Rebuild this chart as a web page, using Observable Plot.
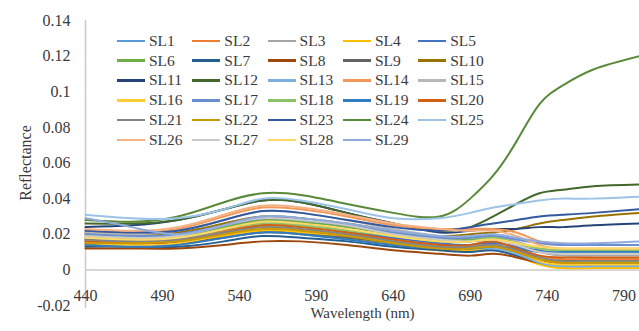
<!DOCTYPE html>
<html>
<head>
<meta charset="utf-8">
<script src="https://cdn.jsdelivr.net/npm/d3@7"></script>
<script src="https://cdn.jsdelivr.net/npm/@observablehq/plot@0.6"></script>
<style>
  html, body { margin: 0; padding: 0; background: #fff; }
  #wrap { position: relative; width: 639px; height: 331px; overflow: hidden; }
  #legend { position: absolute; left: 117px; top: 31px; display: grid;
    grid-template-columns: repeat(5, 75.3px); grid-auto-rows: 19.8px;
    font-family: "Liberation Serif", "Times New Roman", serif; font-size: 15.5px; color: #3a3a3a; }
  .item { display: flex; align-items: center; white-space: nowrap; }
  .sw { width: 28px; height: 2.6px; margin-right: 4px; flex: none; }
</style>
</head>
<body>
<div id="wrap"><div id="legend"></div></div>
<script>
const wavelengths = [440, 470, 500, 530, 555, 580, 610, 640, 670, 690, 705, 720, 735, 750, 770, 800];
const seriesNames = ["SL1","SL2","SL3","SL4","SL5","SL6","SL7","SL8","SL9","SL10",
  "SL11","SL12","SL13","SL14","SL15","SL16","SL17","SL18","SL19","SL20",
  "SL21","SL22","SL23","SL24","SL25","SL26","SL27","SL28","SL29"];
const seriesColors = ["#5B9BD5","#ED7D31","#A5A5A5","#FFC000","#4472C4","#70AD47","#255E91","#9E480E","#636363","#997300",
  "#264478","#43682B","#7CAFDD","#F1975A","#B7B7B7","#FFCD33","#698ED0","#8CC168","#327DC2","#D26012",
  "#848484","#CC9A00","#335AA1","#5A8A39","#9DC3E6","#F4B183","#C9C9C9","#FFD966","#8FAADC"];
// reflectance values per series, at the wavelengths above
const reflectance = [
  [0.016,0.015,0.016,0.020,0.023,0.022,0.019,0.015,0.012,0.011,0.011,0.008,0.004,0.002,0.002,0.002], // SL1
  [0.017,0.016,0.017,0.022,0.025,0.024,0.021,0.017,0.014,0.014,0.015,0.012,0.008,0.006,0.006,0.006], // SL2
  [0.020,0.019,0.020,0.026,0.030,0.029,0.025,0.020,0.017,0.016,0.017,0.014,0.010,0.008,0.008,0.008], // SL3
  [0.014,0.013,0.014,0.019,0.022,0.021,0.018,0.014,0.011,0.011,0.012,0.008,0.003,0.001,0.001,0.001], // SL4
  [0.018,0.017,0.018,0.023,0.027,0.026,0.022,0.018,0.015,0.014,0.015,0.013,0.011,0.010,0.010,0.010], // SL5
  [0.019,0.018,0.019,0.024,0.028,0.027,0.024,0.020,0.017,0.017,0.018,0.015,0.012,0.011,0.011,0.011], // SL6
  [0.013,0.013,0.013,0.016,0.019,0.018,0.016,0.013,0.011,0.010,0.011,0.008,0.005,0.004,0.004,0.004], // SL7
  [0.012,0.012,0.012,0.014,0.016,0.016,0.014,0.011,0.009,0.008,0.009,0.007,0.004,0.003,0.003,0.003], // SL8
  [0.015,0.014,0.015,0.018,0.021,0.020,0.018,0.015,0.012,0.012,0.013,0.010,0.006,0.005,0.005,0.005], // SL9
  [0.021,0.020,0.021,0.026,0.030,0.029,0.026,0.022,0.019,0.020,0.021,0.023,0.026,0.028,0.030,0.032], // SL10
  [0.024,0.025,0.028,0.034,0.039,0.038,0.032,0.026,0.021,0.022,0.023,0.023,0.024,0.024,0.025,0.026], // SL11
  [0.026,0.026,0.028,0.034,0.039,0.038,0.032,0.026,0.022,0.024,0.030,0.037,0.043,0.045,0.047,0.048], // SL12
  [0.017,0.016,0.017,0.021,0.024,0.023,0.020,0.016,0.013,0.012,0.012,0.009,0.004,0.002,0.002,0.002], // SL13
  [0.022,0.021,0.023,0.030,0.035,0.034,0.030,0.025,0.023,0.023,0.023,0.021,0.016,0.014,0.014,0.014], // SL14
  [0.021,0.020,0.022,0.028,0.033,0.032,0.028,0.023,0.019,0.018,0.019,0.016,0.012,0.010,0.010,0.010], // SL15
  [0.015,0.014,0.015,0.020,0.024,0.023,0.020,0.016,0.013,0.013,0.014,0.011,0.005,0.003,0.003,0.003], // SL16
  [0.020,0.019,0.020,0.025,0.029,0.028,0.025,0.021,0.018,0.018,0.019,0.017,0.015,0.014,0.014,0.014], // SL17
  [0.018,0.017,0.018,0.023,0.026,0.025,0.022,0.019,0.016,0.016,0.018,0.015,0.012,0.011,0.011,0.011], // SL18
  [0.014,0.013,0.014,0.018,0.021,0.020,0.017,0.014,0.012,0.012,0.013,0.012,0.010,0.010,0.010,0.010], // SL19
  [0.016,0.015,0.016,0.021,0.025,0.024,0.021,0.017,0.014,0.014,0.016,0.012,0.008,0.007,0.007,0.007], // SL20
  [0.017,0.016,0.017,0.021,0.024,0.023,0.020,0.016,0.013,0.013,0.014,0.011,0.007,0.005,0.005,0.005], // SL21
  [0.015,0.015,0.016,0.020,0.023,0.022,0.019,0.015,0.012,0.012,0.013,0.010,0.006,0.004,0.004,0.004], // SL22
  [0.022,0.021,0.022,0.028,0.033,0.032,0.028,0.024,0.022,0.024,0.026,0.028,0.030,0.031,0.032,0.034], // SL23
  [0.028,0.027,0.030,0.038,0.043,0.042,0.037,0.032,0.030,0.040,0.053,0.072,0.093,0.1035,0.1125,0.120], // SL24
  [0.031,0.029,0.029,0.034,0.040,0.039,0.034,0.029,0.029,0.032,0.035,0.037,0.039,0.040,0.040,0.041], // SL25
  [0.023,0.022,0.024,0.031,0.036,0.035,0.031,0.026,0.023,0.022,0.022,0.019,0.014,0.012,0.012,0.012], // SL26
  [0.019,0.018,0.019,0.025,0.029,0.028,0.025,0.020,0.017,0.016,0.017,0.014,0.010,0.009,0.009,0.009], // SL27
  [0.018,0.017,0.018,0.023,0.027,0.026,0.023,0.019,0.016,0.016,0.017,0.015,0.013,0.012,0.012,0.012], // SL28
  [0.029,0.024,0.020,0.025,0.030,0.029,0.026,0.022,0.019,0.019,0.020,0.018,0.016,0.015,0.015,0.016]  // SL29
];
const xTicks = [440, 490, 540, 590, 640, 690, 740, 790];
const yTicks = [-0.02, 0, 0.02, 0.04, 0.06, 0.08, 0.1, 0.12, 0.14];

const font = "'Liberation Serif', 'Times New Roman', serif";
const textColor = "#3a3a3a";
const axisColor = "#cfc9c5";

const lineMarks = seriesNames.map((name, i) => {
  const rows = wavelengths.map((w, j) => ({wl: w, v: reflectance[i][j]}));
  return Plot.line(rows, {x: "wl", y: "v", stroke: seriesColors[i], strokeWidth: 2, curve: "natural"});
});

const fmt = d => d === 0 ? "0" : String(+d.toFixed(2));

const chart = Plot.plot({
  width: 639,
  height: 331,
  marginLeft: 85,
  marginRight: 0,
  marginTop: 20,
  marginBottom: 26,
  style: {fontFamily: font, fontSize: "16px", color: textColor, background: "transparent", overflow: "visible"},
  x: {domain: [440, 800], axis: null},
  y: {domain: [-0.02, 0.14], axis: null},
  marks: [
    Plot.ruleY([0], {stroke: axisColor, strokeWidth: 1.5}),
    Plot.ruleX([440], {y1: -0.0217, y2: 0.14, stroke: axisColor, strokeWidth: 1.5}),
    ...lineMarks,
    Plot.axisY({ticks: yTicks, tickSize: 0, tickPadding: 15, tickFormat: fmt, fontSize: 16, fill: textColor, label: null}),
    Plot.text(xTicks, {x: d => d, y: -0.0144, text: d => String(d), fontSize: 16, fill: textColor}),
    Plot.text(["Wavelength (nm)"], {x: 620, y: -0.0245, text: d => d, fontSize: 15, fill: textColor}),
    Plot.text(["Reflectance"], {x: 401, y: 0.06, text: d => d, rotate: -90, fontSize: 16, fill: textColor})
  ]
});
const wrap = document.getElementById("wrap");
wrap.insertBefore(chart, wrap.firstChild);

const legend = document.getElementById("legend");
seriesNames.forEach((name, i) => {
  const item = document.createElement("div");
  item.className = "item";
  const sw = document.createElement("span");
  sw.className = "sw";
  sw.style.background = seriesColors[i];
  const label = document.createElement("span");
  label.textContent = name;
  item.appendChild(sw);
  item.appendChild(label);
  legend.appendChild(item);
});
</script>
</body>
</html>
